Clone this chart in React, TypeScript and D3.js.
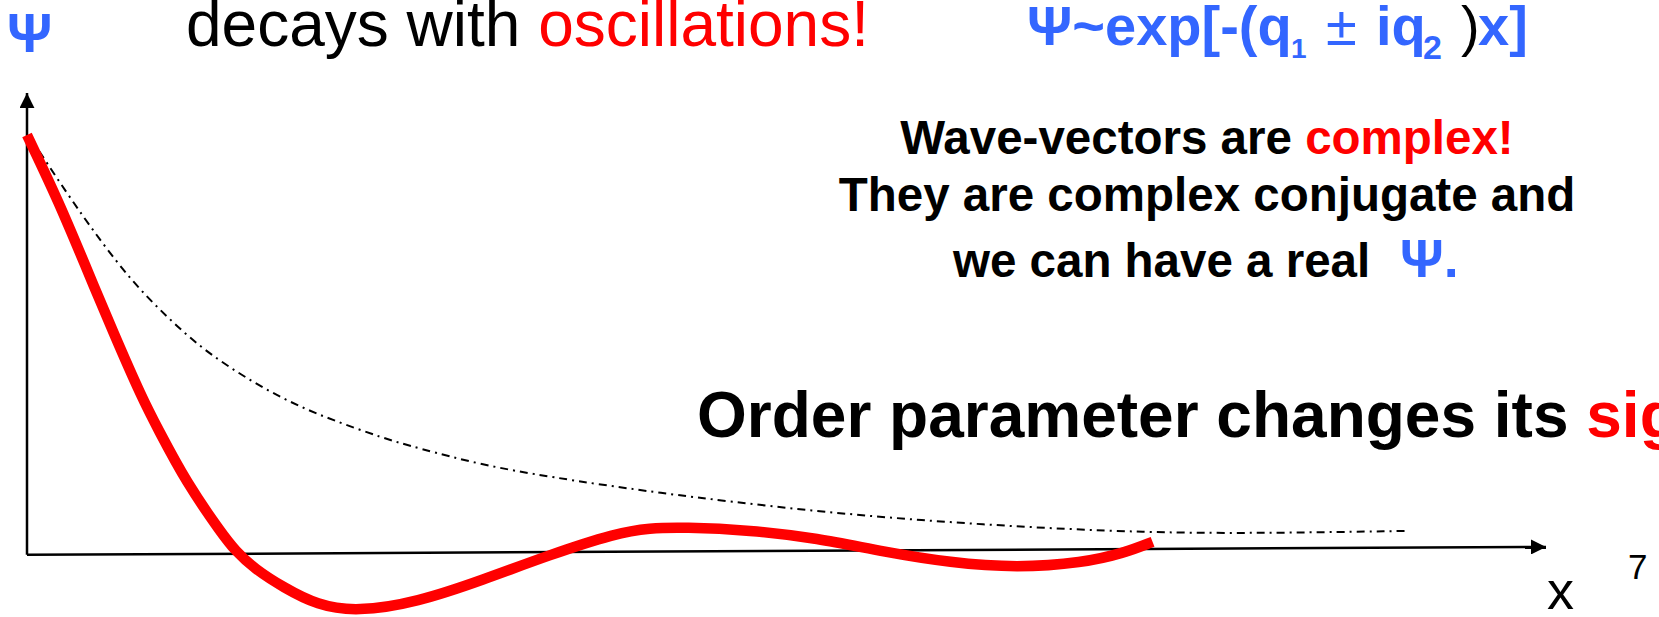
import * as d3 from 'd3'
import { useEffect, useRef } from 'react'

// red curve: damped oscillation (x in arbitrary units, psi normalised to 1 at x=0)
const waveX = [0, 0.21, 0.39, 0.57, 0.76, 0.86, 1.05, 1.28, 1.37, 1.5, 1.69, 1.91, 2.17, 2.57, 3.0, 3.44, 3.88, 4.1, 4.32, 4.76, 5.2, 5.64, 6.08, 6.52, 6.95, 7.22, 7.41]
const waveY = [1.0, 0.84, 0.683, 0.527, 0.37, 0.3, 0.17, 0.05, 0.008, -0.036, -0.08, -0.122, -0.138, -0.115, -0.062, -0.002, 0.05, 0.062, 0.064, 0.057, 0.038, 0.005, -0.021, -0.033, -0.021, 0.002, 0.029]

// dash-dot envelope
const envX = [0.01, 0.26, 0.48, 0.7, 0.92, 1.14, 1.36, 1.58, 1.8, 2.01, 2.34, 2.57, 3.0, 3.44, 4.1, 5.2, 6.29, 7.39, 8.22, 9.07]
const envY = [1.0, 0.862, 0.749, 0.647, 0.566, 0.494, 0.439, 0.391, 0.351, 0.32, 0.277, 0.253, 0.212, 0.184, 0.148, 0.1, 0.069, 0.05, 0.05, 0.055]

// axis end points (the x axis on the slide is a touch tilted)
const xAxisEnds = [[0, -0.002], [10, 0.017]]
const yAxisEnds = [[0, -0.002], [0, 1.1]]

const FONT = "'Liberation Sans', Arial, sans-serif"
const BLUE = '#3366ff'
const RED = '#ff0000'

function drawSlide(el: SVGSVGElement) {
    const svg = d3.select(el)
    svg.selectAll('*').remove()

    const scX = d3.scaleLinear().domain([0, 10]).range([27, 1546])
    const scY = d3.scaleLinear().domain([0, 1]).range([554, 135])

    svg.append('defs').append('marker')
        .attr('id', 'arrowHead')
        .attr('viewBox', '0 0 15 15').attr('refX', 15).attr('refY', 7.5)
        .attr('markerWidth', 15).attr('markerHeight', 15)
        .attr('markerUnits', 'userSpaceOnUse').attr('orient', 'auto')
        .append('path').attr('d', 'M0,0 L15,7.5 L0,15 Z').attr('fill', 'black')

    const straight = d3.line<number[]>().x(d => scX(d[0])).y(d => scY(d[1]))

    // axes
    ;[xAxisEnds, yAxisEnds].forEach(ends => {
        svg.append('path').attr('d', straight(ends))
            .attr('stroke', 'black').attr('stroke-width', 2.5)
            .attr('fill', 'none').attr('marker-end', 'url(#arrowHead)')
    })

    const curveOf = (xs: number[], ys: number[]) =>
        d3.line<number>().x(i => scX(xs[i])).y(i => scY(ys[i]))
            .curve(d3.curveBasis)(d3.range(xs.length))

    // envelope
    svg.append('path')
        .attr('d', curveOf(envX, envY))
        .attr('fill', 'none').attr('stroke', 'black')
        .attr('stroke-width', 2).attr('stroke-dasharray', '8,5,2,5')

    // oscillating order parameter
    svg.append('path')
        .attr('d', curveOf(waveX, waveY))
        .attr('fill', 'none').attr('stroke', RED)
        .attr('stroke-width', 10.5).attr('stroke-linecap', 'butt')

    const txt = (x: number, y: number, size: number, bold = false, anchor = 'start') =>
        svg.append('text').attr('x', x).attr('y', y)
            .attr('font-family', FONT).attr('font-size', size)
            .attr('font-weight', bold ? 'bold' : 'normal')
            .attr('text-anchor', anchor)

    // top left
    txt(7, 52, 56, true).attr('fill', BLUE).text('Ψ')
    const head = txt(186, 46, 64)
    head.append('tspan').text('decays with ')
    head.append('tspan').attr('fill', RED).text('oscillations!')

    // formula
    const f = txt(1027, 45, 56, true).attr('fill', BLUE)
    f.append('tspan').text('Ψ~exp[-(q')
    f.append('tspan').attr('x', 1291).attr('y', 58).attr('font-size', 28).text('1')
    f.append('tspan').attr('x', 1326).attr('y', 45).attr('font-weight', 'normal').text('±')
    f.append('tspan').attr('x', 1376).attr('y', 45).text('iq')
    f.append('tspan').attr('x', 1423).attr('y', 59).attr('font-size', 34).text('2')
    f.append('tspan').attr('x', 1461).attr('y', 45).attr('fill', 'black').attr('font-weight', 'normal').text(')')
    f.append('tspan').attr('x', 1478).attr('y', 45).text('x]')

    // explanation block
    const l1 = txt(1207, 154, 47.5, true, 'middle')
    l1.append('tspan').text('Wave-vectors are ')
    l1.append('tspan').attr('fill', RED).text('complex!')
    txt(1207, 211, 47.5, true, 'middle').text('They are complex conjugate and')
    const l3 = txt(953, 277, 47.5, true)
    l3.append('tspan').text('we can have a real')
    l3.append('tspan').attr('x', 1400).attr('fill', BLUE).attr('font-size', 54).text('Ψ.')

    const o = txt(697, 437, 64, true)
    o.append('tspan').text('Order parameter changes its ')
    o.append('tspan').attr('fill', RED).text('sign!')

    // axis label and page number
    txt(1547, 609, 54).text('x')
    txt(1628, 579, 35).text('7')
}

function App() {
    const ref = useRef<SVGSVGElement>(null)
    useEffect(() => {
        if (ref.current) drawSlide(ref.current)
    })
    return (
        <svg ref={ref} width="1659" height="617"
            style={{ position: 'absolute', left: 0, top: 0, background: 'white' }}>
        </svg>
    )
}

export default App
